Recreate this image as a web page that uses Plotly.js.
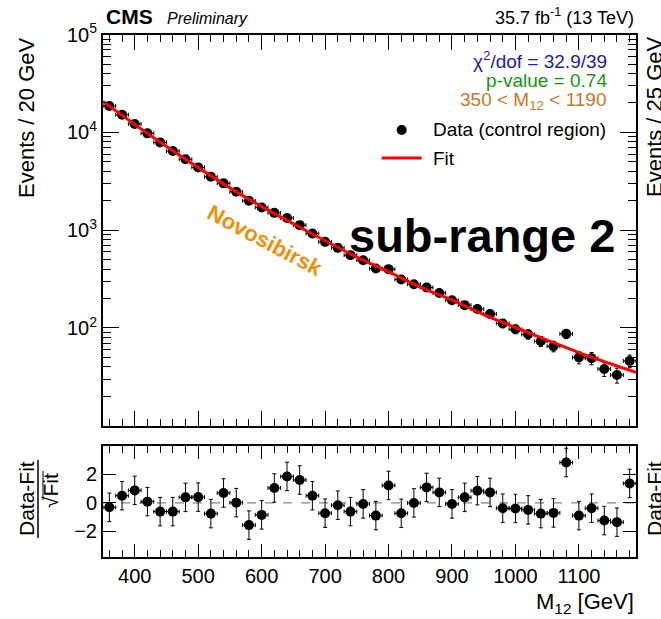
<!DOCTYPE html>
<html>
<head>
<meta charset="utf-8">
<script src="https://cdn.plot.ly/plotly-3.0.1.min.js"></script>
<style>html,body{margin:0;padding:0;background:#fff;}#chart{width:661px;height:619px;}</style>
</head>
<body>
<div id="chart"></div>
<script>
// ---- data ----
const binCenters = [360,380,400,420,440,460,480,500,520,540,560,580,600,620,640,660,680,700,720,740,760,780,800,820,840,860,880,900,920,940,960,980,1000,1020,1040,1060,1080,1100,1120,1140,1160,1180];
const counts = [18580,15140,12160,9770,7900,6440,5300,4385,3515,3010,2466,1995,1707,1503,1330,1125,925,759,659,555,493,405,399,313,280,259,228,192,171,156,139,111,97,86,73,65,87,50,49,38,33,46];
const pulls = [-0.31,0.51,0.88,0.09,-0.61,-0.61,0.39,0.41,-0.75,0.70,0.02,-1.56,-0.84,1.05,1.86,1.61,0.51,-0.72,-0.16,-0.61,-0.07,-0.89,1.23,-0.73,0.00,1.09,0.74,-0.07,0.39,0.86,0.74,-0.37,-0.39,-0.49,-0.75,-0.70,2.84,-0.89,-0.37,-1.24,-1.35,1.37];
const fitMass = [350,400,450,500,550,600,650,700,750,800,850,900,950,1000,1050,1100,1150,1190];
const fitValues = [20700,12060,7180,4360,2707,1741,1162,779,531,374,262,193,137,101,75,56,43,35.1];
const yTickVals = [100,1000,10000,100000];
const yTickText = ['10<sup>2</sup>','10<sup>3</sup>','10<sup>4</sup>','10<sup>5</sup>'];
const pullTickVals = [-2,0,2];

// ---- geometry helpers (pixels -> paper) ----
const W = 661, H = 619;
const px = x => x / W;
const py = y => 1 - y / H;
const FONT = '"Liberation Sans", Arial, Helvetica, sans-serif';

const traces = [
  {
    x: binCenters, y: counts, type: 'scatter', mode: 'markers',
    xaxis: 'x', yaxis: 'y', name: 'Data (control region)',
    marker: {color: '#000', size: 10},
    error_y: {type: 'sqrt', color: '#000', thickness: 1, width: 2},
    error_x: {type: 'constant', value: 10, color: '#000', thickness: 1, width: 2},
    showlegend: false
  },
  {
    x: fitMass, y: fitValues, type: 'scatter', mode: 'lines',
    xaxis: 'x', yaxis: 'y', name: 'Fit',
    line: {color: '#ff0000', width: 3, shape: 'spline', smoothing: 1},
    showlegend: false
  },
  {
    x: binCenters, y: pulls, type: 'scatter', mode: 'markers',
    xaxis: 'x2', yaxis: 'y2',
    marker: {color: '#000', size: 10},
    error_y: {type: 'constant', value: 1, color: '#000', thickness: 1, width: 2},
    error_x: {type: 'constant', value: 10, color: '#000', thickness: 1, width: 2},
    showlegend: false
  }
];

const axBase = {
  showline: true, linecolor: '#000', linewidth: 2, mirror: 'allticks',
  ticks: 'inside', tickcolor: '#000', tickwidth: 1,
  showgrid: false, zeroline: false, automargin: false,
  tickfont: {family: FONT, size: 20, color: '#000'}
};

const xDomain = [px(103), px(636)];

const layout = {
  width: W, height: H,
  margin: {l: 0, r: 0, t: 0, b: 0},
  paper_bgcolor: '#fff', plot_bgcolor: '#fff',
  font: {family: FONT, color: '#000'},
  showlegend: false,
  xaxis: Object.assign({}, axBase, {
    domain: xDomain, anchor: 'y', range: [350, 1190],
    tick0: 0, dtick: 100, ticklen: 15, showticklabels: false,
    minor: {dtick: 20, ticklen: 7, ticks: 'inside', tickcolor: '#000', tickwidth: 1}
  }),
  yaxis: Object.assign({}, axBase, {
    domain: [py(425.7), py(34.6)], anchor: 'x', type: 'log', range: [1, 5],
    tickmode: 'array', tickvals: yTickVals, ticktext: yTickText, ticklen: 16,
    minor: {dtick: 'D1', ticklen: 8, ticks: 'inside', tickcolor: '#000', tickwidth: 1}
  }),
  xaxis2: Object.assign({}, axBase, {
    domain: xDomain, anchor: 'y2', range: [350, 1190],
    tick0: 0, dtick: 100, ticklen: 13,
    minor: {dtick: 20, ticklen: 7, ticks: 'inside', tickcolor: '#000', tickwidth: 1}
  }),
  yaxis2: Object.assign({}, axBase, {
    domain: [py(557), py(446)], anchor: 'x2', range: [-3.8, 4.0],
    tickmode: 'array', tickvals: pullTickVals, ticklen: 13
  }),
  shapes: [
    {type: 'line', xref: 'x2', yref: 'y2', x0: 350, x1: 1190, y0: 0, y1: 0,
     line: {color: '#666', width: 1, dash: 'dash'}, layer: 'below'},
    // legend symbols
    {type: 'circle', xref: 'paper', yref: 'paper', x0: px(396.7), x1: px(406.7), y0: py(135), y1: py(125),
     fillcolor: '#000', line: {color: '#000', width: 0}},
    {type: 'line', xref: 'paper', yref: 'paper', x0: px(381.7), x1: px(421.7), y0: py(158), y1: py(158),
     line: {color: '#ff0000', width: 3}},
    // fraction bar of the pull title
    {type: 'line', xref: 'paper', yref: 'paper', x0: px(38), x1: px(38), y0: py(538), y1: py(460),
     line: {color: '#000', width: 1.5}},
    // radical overline
    {type: 'line', xref: 'paper', yref: 'paper', x0: px(43), x1: px(43), y0: py(500), y1: py(471),
     line: {color: '#000', width: 1}}
  ],
  annotations: [
    {text: '<b>CMS</b>', x: px(104), y: py(17), xanchor: 'left', yanchor: 'middle', font: {size: 21}},
    {text: '<i>Preliminary</i>', x: px(165), y: py(18), xanchor: 'left', yanchor: 'middle', font: {size: 16}},
    {text: '35.7 fb<sup>-1</sup> (13 TeV)', x: px(636), y: py(17), xanchor: 'right', yanchor: 'middle', font: {size: 18}},
    {text: 'χ<sup>2</sup>/dof = 32.9/39', x: px(609), y: py(60), xanchor: 'right', yanchor: 'middle', font: {size: 19, color: '#1c1ca8'}},
    {text: 'p-value = 0.74', x: px(609), y: py(80), xanchor: 'right', yanchor: 'middle', font: {size: 19, color: '#129912'}},
    {text: '350 < M<sub>12</sub> < 1190', x: px(609), y: py(101), xanchor: 'right', yanchor: 'middle', font: {size: 19, color: '#cc7722'}},
    {text: 'Data (control region)', x: px(431), y: py(130), xanchor: 'left', yanchor: 'middle', font: {size: 19}},
    {text: 'Fit', x: px(431), y: py(158), xanchor: 'left', yanchor: 'middle', font: {size: 19}},
    {text: '<b>sub-range 2</b>', x: px(617), y: py(236), xanchor: 'right', yanchor: 'middle', font: {size: 47}},
    {text: '<b>Novosibirsk</b>', x: px(265), y: py(240), xanchor: 'center', yanchor: 'middle', textangle: 28, font: {size: 22, color: '#f0900a'}},
    {text: 'Events / 20 GeV', x: px(27), y: py(118), xanchor: 'center', yanchor: 'middle', textangle: -90, font: {size: 22}},
    {text: 'Data-Fit', x: px(26), y: py(499), xanchor: 'center', yanchor: 'middle', textangle: -90, font: {size: 21}},
    {text: '√Fit', x: px(50), y: py(491), xanchor: 'center', yanchor: 'middle', textangle: -90, font: {size: 21}},
    {text: 'M<sub>12</sub> [GeV]', x: px(636), y: py(603), xanchor: 'right', yanchor: 'middle', font: {size: 22}},
    {text: 'Events / 25 GeV', x: px(654), y: py(117), xanchor: 'center', yanchor: 'middle', textangle: -90, font: {size: 22}},
    {text: 'Data-Fit', x: px(654), y: py(499), xanchor: 'center', yanchor: 'middle', textangle: -90, font: {size: 21}}
  ].map(a => Object.assign({xref: 'paper', yref: 'paper', showarrow: false}, a))
};

Plotly.newPlot('chart', traces, layout, {staticPlot: true, displayModeBar: false});
</script>
</body>
</html>
